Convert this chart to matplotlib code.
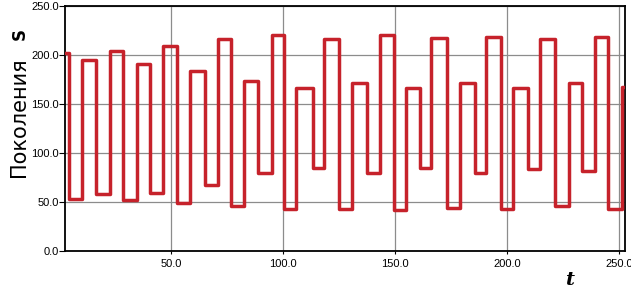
import numpy as np
import matplotlib
matplotlib.use('Agg')
import matplotlib.pyplot as plt
from matplotlib.ticker import FormatStrFormatter, MultipleLocator

# Step points of the series (time where a new level starts, level value)
t_start = [2.7, 4.7, 10.5, 16.7, 22.8, 28.6, 34.8, 40.8, 46.6, 52.9,
           58.5, 65.4, 71.0, 76.8, 82.6, 88.8, 94.9, 100.4, 106.0, 113.2,
           118.3, 125.0, 131.0, 137.5, 143.3, 149.6, 155.1, 161.2, 166.3, 173.4,
           179.0, 185.7, 190.8, 197.3, 202.7, 209.4, 214.7, 221.4, 227.7, 233.3,
           239.3, 245.1, 251.3]
level = [201.7, 52.7, 194.6, 57.9, 204.0, 51.7, 191.0, 59.6, 209.0, 48.7,
         183.7, 67.0, 216.0, 46.0, 173.5, 79.3, 220.0, 43.0, 166.7, 85.0,
         216.0, 43.3, 171.8, 79.3, 220.0, 41.8, 166.7, 85.0, 217.7, 44.3,
         171.8, 80.0, 218.8, 42.6, 166.7, 84.0, 216.7, 46.0, 171.8, 81.6,
         218.8, 42.6, 167.0]

X_MIN, X_MAX = 2.7, 252.7
Y_MIN, Y_MAX = 0, 250

fig = plt.figure(figsize=(6.31, 2.94), dpi=100)
ax = fig.add_axes([65 / 631, 1 - 251 / 294, 560 / 631, 245 / 294])

x = t_start + [X_MAX]
y = level + [level[-1]]
ax.plot(x, y, drawstyle='steps-post', color='#c6222b', lw=2.5,
        solid_joinstyle='round', zorder=3)

ax.set_xlim(X_MIN, X_MAX)
ax.set_ylim(Y_MIN, Y_MAX)
ax.xaxis.set_major_locator(MultipleLocator(50))
ax.yaxis.set_major_locator(MultipleLocator(50))
ax.xaxis.set_major_formatter(FormatStrFormatter('%.1f'))
ax.yaxis.set_major_formatter(FormatStrFormatter('%.1f'))
ax.grid(True, color='#8c8c8c', lw=0.9)
ax.set_axisbelow(True)

for s in ax.spines.values():
    s.set_color('black')
    s.set_linewidth(1.3)

ax.tick_params(axis='y', length=4, width=0.8, pad=0.5, labelsize=8)
ax.tick_params(axis='x', length=2.5, width=0.8, pad=3, labelsize=8)
for lab in ax.get_xticklabels() + ax.get_yticklabels():
    lab.set_fontfamily('Liberation Sans')

# axis titles
fig.text(19.5 / 631, 1 - 117 / 294, 'Поколения', rotation=90, ha='center',
         va='center', fontsize=15, family='DejaVu Sans')
fig.text(19.5 / 631, 1 - 34 / 294, 'S', rotation=90, ha='center',
         va='center', fontsize=12, family='DejaVu Sans', fontweight='bold')
fig.text(570 / 631, 1 - 280 / 294, 't', ha='center', va='center',
         fontsize=14, family='DejaVu Serif', fontweight='bold', style='italic')

fig.savefig('out.png', dpi=100)
